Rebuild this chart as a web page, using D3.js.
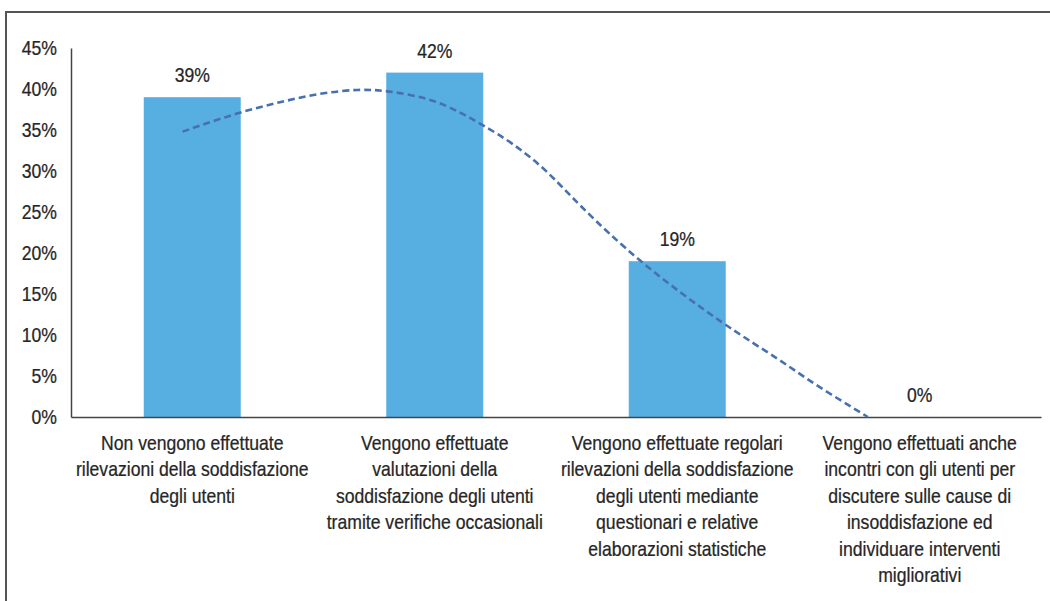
<!DOCTYPE html>
<html>
<head>
<meta charset="utf-8">
<script src="https://cdn.jsdelivr.net/npm/d3@7"></script>
<style>
  html, body { margin: 0; padding: 0; background: #fff; }
  svg { display: block; }
  text { font-family: "Liberation Sans", Arial, sans-serif; fill: #262626; stroke: #262626; stroke-width: 0.25px; }
</style>
</head>
<body>
<svg id="chart" width="1050" height="601"></svg>
<script>
// Survey answers (share of respondents)
const categories = [
  ["Non vengono effettuate", "rilevazioni della soddisfazione", "degli utenti"],
  ["Vengono effettuate", "valutazioni della", "soddisfazione degli utenti", "tramite verifiche occasionali"],
  ["Vengono effettuate regolari", "rilevazioni della soddisfazione", "degli utenti mediante", "questionari e relative", "elaborazioni statistiche"],
  ["Vengono effettuati anche", "incontri con gli utenti per", "discutere sulle cause di", "insoddisfazione ed", "individuare interventi", "migliorativi"]
];
const values = [0.39, 0.42, 0.19, 0.00];

// Trend curve: position along the category axis (0 = first category) and value
const trendPos = [-0.04, 0.196, 0.361, 0.526, 0.691, 0.802, 0.979, 1.103, 1.198, 1.322, 1.462, 1.586, 1.845, 2.204, 2.423, 2.559, 2.786];
const trendVal = [0.348, 0.372, 0.384, 0.395, 0.400, 0.398, 0.389, 0.372, 0.356, 0.334, 0.301, 0.261, 0.188, 0.110, 0.070, 0.041, 0.000];

const yTicks = [0, 0.05, 0.10, 0.15, 0.20, 0.25, 0.30, 0.35, 0.40, 0.45];

const FONT = 20;        // px
const NARROW = 0.88;    // horizontal condensing of all text
const LINE_GAP = 26.4;  // px between wrapped label lines

const svg = d3.select("#chart");
const W = 1050, H = 601;
const plot = { left: 71, right: 1041, top: 48, bottom: 417 };

// Draws condensed text anchored at (cx, cy)
function narrowText(parent, cx, cy, anchor) {
  return parent.append("g")
    .attr("transform", `translate(${cx},${cy}) scale(${NARROW},1)`)
    .append("text")
    .attr("text-anchor", anchor)
    .style("font-size", FONT + "px");
}

// Frame around the figure (open on the right and bottom)
svg.append("path")
  .attr("d", `M6,${H} L6,12 L${W},12`)
  .attr("fill", "none")
  .attr("stroke", "#555")
  .attr("stroke-width", 2);

const idx = d3.range(categories.length);
const x = d3.scaleBand()
  .domain(idx)
  .range([plot.left, plot.right])
  .paddingInner(0.6)
  .paddingOuter(0.3);

const y = d3.scaleLinear()
  .domain([0, 0.45])
  .range([plot.bottom, plot.top]);

const xPos = d3.scaleLinear()
  .domain([0, 1])
  .range([x(0) + x.bandwidth() / 2, x(1) + x.bandwidth() / 2]);

const pct = d3.format(".0%");

// Y axis: line from the axis generator, labels condensed
const yAxis = svg.append("g")
  .attr("transform", `translate(${plot.left},0)`)
  .call(d3.axisLeft(y).tickValues(yTicks).tickFormat("").tickSize(0));
yAxis.select(".domain").attr("stroke", "#444").attr("stroke-width", 1.5);
const yLab = svg.append("g");
yTicks.forEach(t => {
  narrowText(yLab, plot.left - 14, y(t) + 7, "end").text(pct(t));
});

// Bars
svg.append("g").selectAll("rect")
  .data(values)
  .join("rect")
  .attr("x", (d, i) => x(i))
  .attr("y", d => y(d))
  .attr("width", x.bandwidth())
  .attr("height", d => y(0) - y(d))
  .attr("fill", "#57afe1");

// X axis
const xAxis = svg.append("g")
  .attr("transform", `translate(0,${plot.bottom})`)
  .call(d3.axisBottom(x).tickSize(0).tickFormat(""));
xAxis.select(".domain").attr("stroke", "#444").attr("stroke-width", 1.5);

// Category labels (multi-line)
const catG = svg.append("g");
categories.forEach((lines, i) => {
  const t = narrowText(catG, x(i) + x.bandwidth() / 2, 450, "middle");
  t.selectAll("tspan")
    .data(lines)
    .join("tspan")
    .attr("x", 0)
    .attr("dy", (l, j) => j === 0 ? 0 : LINE_GAP)
    .text(l => l);
});

// Trend line
const line = d3.line()
  .x((d, i) => xPos(trendPos[i]))
  .y(d => y(d))
  .curve(d3.curveBasis);
svg.append("path")
  .datum(trendVal)
  .attr("d", line)
  .attr("fill", "none")
  .attr("stroke", "#4771ae")
  .attr("stroke-width", 2.6)
  .attr("stroke-dasharray", "7,4");

// Value labels
const valG = svg.append("g");
values.forEach((v, i) => {
  narrowText(valG, x(i) + x.bandwidth() / 2, y(v) - 15, "middle").text(pct(v));
});
</script>
</body>
</html>
